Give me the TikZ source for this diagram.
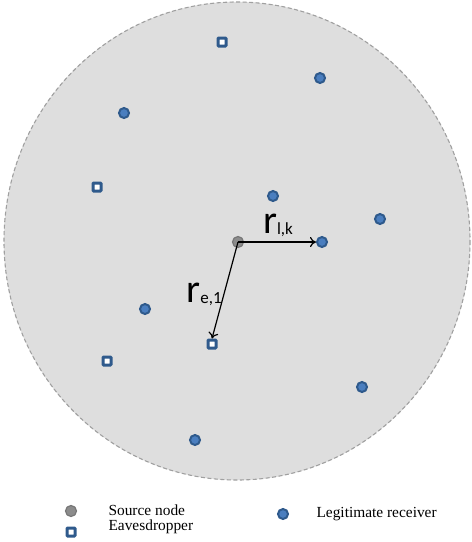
\documentclass[tikz,border=0pt]{standalone}
\usepackage{fontspec}
\setmainfont{Liberation Serif}
\newfontfamily\labfont{Carlito}
\usetikzlibrary{arrows.meta}

\definecolor{areagray}{HTML}{DEDEDE}
\definecolor{rimgray}{HTML}{A0A0A0}
\definecolor{darkblue}{HTML}{2F5A8C}
\definecolor{midblue}{HTML}{4A7EBF}
\definecolor{srcgray}{HTML}{8C8C8C}

\begin{document}
\begin{tikzpicture}[
  x=1pt,
  y=-1pt,
  legit/.style={circle, draw=darkblue, fill=midblue, line width=2pt,
    minimum size=10pt, inner sep=0pt},
  eve/.style={rectangle, draw=darkblue, fill=white, line width=3pt,
    minimum size=8pt, inner sep=0pt, rounded corners=0.8pt},
  src/.style={circle, draw=srcgray!85!black, fill=srcgray, line width=1.2pt,
    minimum size=11pt, inner sep=0pt},
  dist/.style={-{To[length=6pt,width=10pt]}, line width=1.2pt},
  legtext/.style={font=\fontsize{15.4}{17}\selectfont, anchor=west}
]

% Canvas
\useasboundingbox (0,0) rectangle (472,542);

% Coverage area
\draw[areagray, fill=areagray] (237,241) ellipse [x radius=233, y radius=239];
\draw[rimgray, dashed, line width=1.1pt, dash pattern=on 4pt off 2.5pt]
  (237,241) ellipse [x radius=233, y radius=239];

% Legitimate receivers
\foreach \n/\x/\y in {1/124/113, 2/320/78, 3/273/196, 4/380/219,
                      5/322/242, 6/145/309, 7/362/387, 8/195/440} {
  \node[legit] (l\n) at (\x,\y) {};
}

% Eavesdroppers
\foreach \n/\x/\y in {1/212/344, 2/222/42, 3/97/187, 4/107/361} {
  \node[eve] (e\n) at (\x,\y) {};
}

% Source
\node[src] (s) at (238,242) {};

% Distances
\draw[dist] (s.center) -- (l5.west);
\draw[dist] (s.center) -- (e1.north);
\node[font=\labfont\fontsize{40}{40}\selectfont] (rlk) at (278,225)
  {r\raisebox{-1pt}{\fontsize{17}{17}\selectfont l,k}};
\node[font=\labfont\fontsize{40}{40}\selectfont] (re1) at (204,294)
  {r\raisebox{-1pt}{\fontsize{17}{17}\selectfont e,1}};

% Legend
\node[src] (legsrc) at (71,511) {};
\node[eve] (legeve) at (71,532) {};
\node[legit] (legleg) at (283,514) {};
\node[legtext] (tsrc) at (105,510) {Source node};
\node[legtext] (teve) at (105,527) {Eavesdropper};
\node[legtext] (tleg) at (313,514) {Legitimate receiver};

\end{tikzpicture}
\end{document}
